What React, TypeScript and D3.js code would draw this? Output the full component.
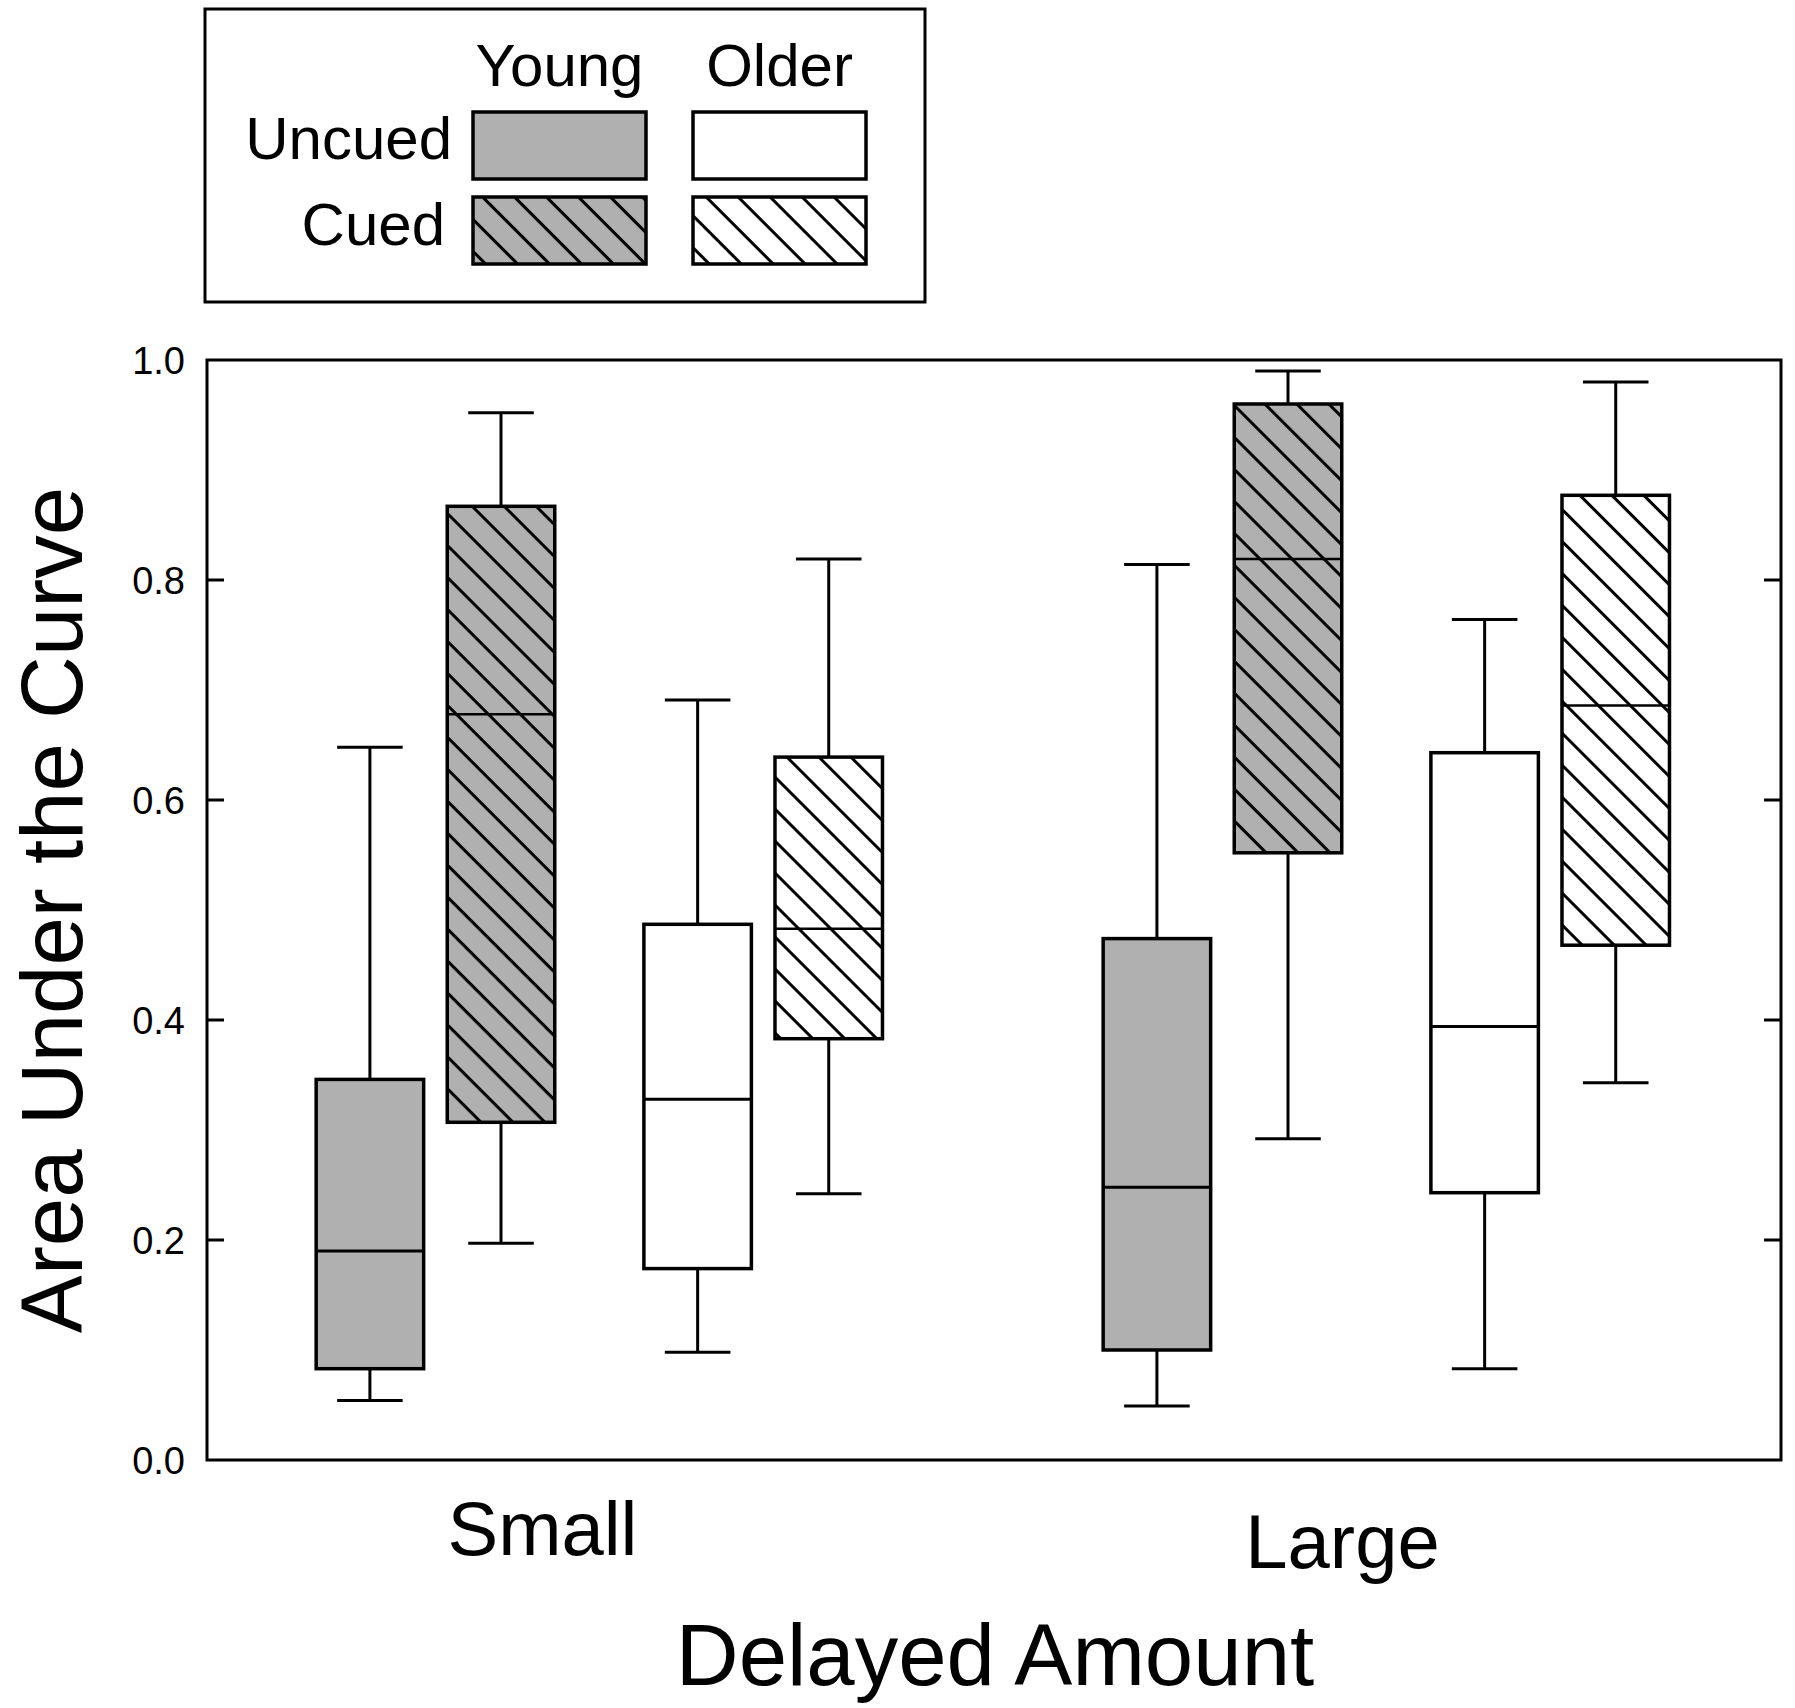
import React from "react";
import * as d3 from "d3";

// ---- data ----
const categories = ["Small", "Large"];
const seriesNames = ["Young Uncued", "Young Cued", "Older Uncued", "Older Cued"];
const seriesAge = ["Young", "Young", "Older", "Older"];
const seriesCue = ["Uncued", "Cued", "Uncued", "Cued"];
// values per series: [Small, Large]
const whiskerLow = [
  [0.054, 0.049],
  [0.197, 0.292],
  [0.098, 0.083],
  [0.242, 0.343],
];
const q1 = [
  [0.083, 0.1],
  [0.307, 0.552],
  [0.174, 0.243],
  [0.383, 0.468],
];
const median = [
  [0.19, 0.248],
  [0.678, 0.819],
  [0.328, 0.394],
  [0.483, 0.686],
];
const q3 = [
  [0.346, 0.474],
  [0.867, 0.96],
  [0.487, 0.643],
  [0.639, 0.877],
];
const whiskerHigh = [
  [0.648, 0.814],
  [0.952, 0.99],
  [0.691, 0.764],
  [0.819, 0.98],
];
const yTicks = [0, 0.2, 0.4, 0.6, 0.8, 1.0];
const legendCols = ["Young", "Older"];
const legendRows = ["Uncued", "Cued"];

// ---- layout ----
const W = 1795;
const H = 1708;
const plot = { left: 207, right: 1781, top: 360, bottom: 1460 };
const slotUnits = [0, 1, 2.5, 3.5];
const catLabelDx = [-58, -45];
const catLabelY = [1555, 1568];
const FONT = "'Liberation Sans', Arial, Helvetica, sans-serif";
const GREY = "#b0b0b0";

export default function App() {
  const y = d3.scaleLinear().domain([0, 1]).range([plot.bottom, plot.top]);
  const x0 = d3.scaleBand<string>().domain(categories).range([plot.left, plot.right]).padding(0);
  const bw = x0.bandwidth();
  const xInner = d3.scaleLinear().domain([0, 3.5]).range([bw * 0.207, bw * 0.79]);
  const unit = xInner(1) - xInner(0);
  const boxW = unit * 0.82;
  const capW = unit * 0.5;

  const boxes: any[] = [];
  categories.forEach((c, ci) => {
    seriesNames.forEach((s, si) => {
      boxes.push({
        key: `${c}-${s}`,
        cx: (x0(c) as number) + xInner(slotUnits[si]),
        lo: whiskerLow[si][ci],
        q1: q1[si][ci],
        med: median[si][ci],
        q3: q3[si][ci],
        hi: whiskerHigh[si][ci],
        grey: seriesAge[si] === "Young",
        hatch: seriesCue[si] === "Cued",
      });
    });
  });

  // legend layout
  const legend = { x: 205, y: 9, w: 720, h: 293 };
  const swX = [473, 693];
  const swW = 173;
  const swY = [112, 197];
  const swH = 67;

  return (
    <svg
      width={W}
      height={H}
      style={{ position: "absolute", left: 0, top: 0, background: "#fff" }}
      fontFamily={FONT}
    >
      <defs>
        <pattern
          id="hatch"
          patternUnits="userSpaceOnUse"
          width={22.6}
          height={22.6}
          patternTransform="rotate(45)"
        >
          <line x1={-2} y1={1.5} x2={25} y2={1.5} stroke="#000" strokeWidth={3} />
        </pattern>
      </defs>
      <rect x={0} y={0} width={W} height={H} fill="#fff" />

      {/* legend */}
      <rect x={legend.x} y={legend.y} width={legend.w} height={legend.h} fill="#fff" stroke="#000" strokeWidth={3} />
      {legendCols.map((c, i) => (
        <text key={c} x={swX[i] + swW / 2} y={86} fontSize={60} textAnchor="middle" fill="#000">
          {c}
        </text>
      ))}
      {legendRows.map((r, ri) => (
        <text key={r} x={ri === 0 ? 452 : 445} y={ri === 0 ? 159 : 245} fontSize={60} textAnchor="end" fill="#000">
          {r}
        </text>
      ))}
      {legendRows.map((r, ri) =>
        legendCols.map((c, ci) => (
          <g key={`${r}-${c}`}>
            <rect x={swX[ci]} y={swY[ri]} width={swW} height={swH} fill={c === "Young" ? GREY : "#fff"} />
            {r === "Cued" && <rect x={swX[ci]} y={swY[ri]} width={swW} height={swH} fill="url(#hatch)" />}
            <rect x={swX[ci]} y={swY[ri]} width={swW} height={swH} fill="none" stroke="#000" strokeWidth={3.5} />
          </g>
        ))
      )}

      {/* frame */}
      <rect
        x={plot.left}
        y={plot.top}
        width={plot.right - plot.left}
        height={plot.bottom - plot.top}
        fill="none"
        stroke="#000"
        strokeWidth={3}
      />
      {/* y ticks */}
      {yTicks.map((t) => (
        <g key={t}>
          {t > 0 && t < 1 && (
            <>
              <line x1={plot.left} x2={plot.left + 17} y1={y(t)} y2={y(t)} stroke="#000" strokeWidth={3} />
              <line x1={plot.right - 17} x2={plot.right} y1={y(t)} y2={y(t)} stroke="#000" strokeWidth={3} />
            </>
          )}
          <text x={185} y={y(t)} dy="0.36em" fontSize={38} textAnchor="end" fill="#000">
            {d3.format(".1f")(t)}
          </text>
        </g>
      ))}

      {/* boxes */}
      {boxes.map((b) => (
        <g key={b.key}>
          <line x1={b.cx} x2={b.cx} y1={y(b.hi)} y2={y(b.q3)} stroke="#000" strokeWidth={3} />
          <line x1={b.cx} x2={b.cx} y1={y(b.q1)} y2={y(b.lo)} stroke="#000" strokeWidth={3} />
          <line x1={b.cx - capW / 2} x2={b.cx + capW / 2} y1={y(b.hi)} y2={y(b.hi)} stroke="#000" strokeWidth={3} />
          <line x1={b.cx - capW / 2} x2={b.cx + capW / 2} y1={y(b.lo)} y2={y(b.lo)} stroke="#000" strokeWidth={3} />
          <rect x={b.cx - boxW / 2} y={y(b.q3)} width={boxW} height={y(b.q1) - y(b.q3)} fill={b.grey ? GREY : "#fff"} />
          {b.hatch && (
            <rect x={b.cx - boxW / 2} y={y(b.q3)} width={boxW} height={y(b.q1) - y(b.q3)} fill="url(#hatch)" />
          )}
          <rect
            x={b.cx - boxW / 2}
            y={y(b.q3)}
            width={boxW}
            height={y(b.q1) - y(b.q3)}
            fill="none"
            stroke="#000"
            strokeWidth={3.5}
          />
          <line
            x1={b.cx - boxW / 2}
            x2={b.cx + boxW / 2}
            y1={y(b.med)}
            y2={y(b.med)}
            stroke="#000"
            strokeWidth={b.hatch ? 2.5 : 3}
          />
        </g>
      ))}

      {/* category labels */}
      {categories.map((c, i) => (
        <text
          key={c}
          x={(x0(c) as number) + bw / 2 + catLabelDx[i]}
          y={catLabelY[i]}
          fontSize={76}
          textAnchor="middle"
          fill="#000"
        >
          {c}
        </text>
      ))}

      {/* axis titles */}
      <text x={995} y={1685} fontSize={87} textAnchor="middle" fill="#000">
        Delayed Amount
      </text>
      <text transform={`translate(82, ${(plot.top + plot.bottom) / 2}) rotate(-90)`} fontSize={87} textAnchor="middle" fill="#000">
        Area Under the Curve
      </text>
    </svg>
  );
}
